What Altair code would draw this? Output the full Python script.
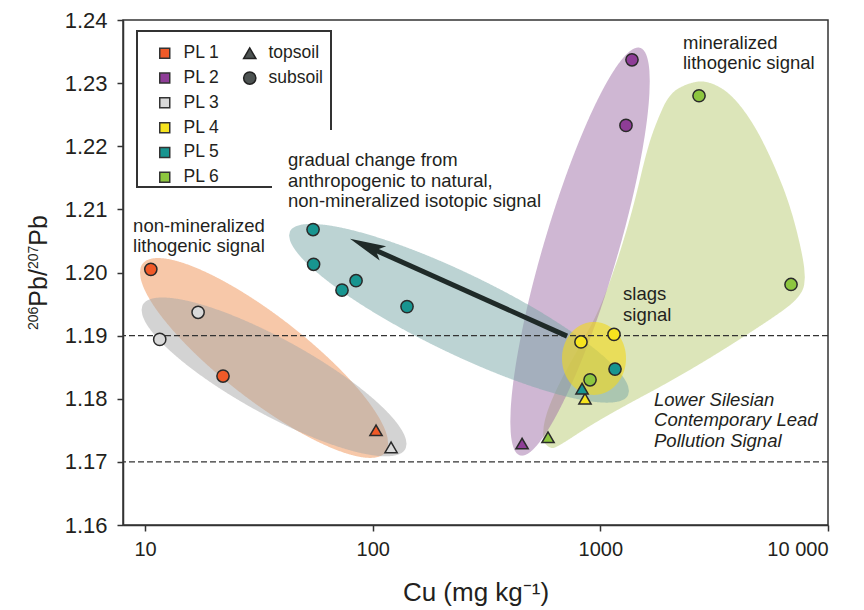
import numpy as np
import pandas as pd
import altair as alt

# ---------------- data ----------------
site_names = ["PL 1", "PL 2", "PL 3", "PL 4", "PL 5", "PL 6"]
site_colors = ["#f05a28", "#8e3d97", "#d9d9d9", "#f6e41f", "#189590", "#8dc63f"]
soil_names = ["topsoil", "subsoil"]
soil_shapes = ["triangle-up", "circle"]

pt_site = ["PL 1", "PL 1", "PL 1",
           "PL 2", "PL 2", "PL 2",
           "PL 3", "PL 3", "PL 3",
           "PL 4", "PL 4", "PL 4",
           "PL 5", "PL 5", "PL 5", "PL 5", "PL 5", "PL 5", "PL 5",
           "PL 6", "PL 6", "PL 6", "PL 6"]
pt_soil = ["subsoil", "subsoil", "topsoil",
           "subsoil", "subsoil", "topsoil",
           "subsoil", "subsoil", "topsoil",
           "subsoil", "subsoil", "topsoil",
           "subsoil", "subsoil", "subsoil", "subsoil", "subsoil", "subsoil", "topsoil",
           "subsoil", "topsoil", "subsoil", "subsoil"]
pt_cu = [10.6, 22.0, 103.4,
         1377, 1296, 453,
         17.1, 11.6, 120.4,
         822, 1148, 856,
         54.7, 55.0, 73.3, 84.5, 141.5, 1160, 831,
         901, 589, 2713, 6880]
pt_ratio = [1.2005, 1.1836, 1.1750,
            1.2337, 1.2233, 1.1729,
            1.1937, 1.1894, 1.1723,
            1.1890, 1.1902, 1.1800,
            1.2068, 1.2013, 1.1972, 1.1987, 1.1946, 1.1847, 1.1816,
            1.1830, 1.1739, 1.2280, 1.1981]

# shaded ellipses: centre, end of one semi-axis, end of the other semi-axis
ell_name = ["PL 2", "PL 1", "PL 3", "PL 5", "PL 4"]
ell_center_cu = [814.3, 33.32, 36.87, 239.4, 937.8]
ell_center_ratio = [1.20331, 1.18646, 1.18346, 1.19354, 1.18639]
ell_major_cu = [1494, 113.7, 138.97, 1323, 937.8]
ell_major_ratio = [1.23559, 1.17151, 1.17202, 1.18057, 1.19217]
ell_minor_cu = [1166, 43.30, 44.40, 285.8, 1296.5]
ell_minor_ratio = [1.20167, 1.19167, 1.18869, 1.19921, 1.18639]
ell_fill = ["#9f6fa8", "#f19a63", "#a8a8a8", "#7aa8a8", "#f0d820"]
ell_opacity = [0.5, 0.55, 0.5, 0.5, 0.62]

# irregular PL 6 region outline
green_upper_cu = [554, 571, 665, 814, 997, 1184, 1391, 1603, 1774, 2023, 2476,
                  2941, 3711, 4683, 5733, 6808, 7688, 8007]
green_upper_ratio = [1.1734, 1.1773, 1.1828, 1.1884, 1.1943, 1.2017, 1.2101, 1.2195,
                     1.2241, 1.2285, 1.2301, 1.2304, 1.2285, 1.2238, 1.2175, 1.2107,
                     1.2033, 1.1986]
green_lower_cu = [601, 645, 997, 2476, 6153, 7534]
green_lower_ratio = [1.1721, 1.1723, 1.1768, 1.1844, 1.1935, 1.1962]

# reference lines
ref_ratio = [1.19, 1.17]

# arrow: tail, shaft end, tip
arrow_cu = [714, 100.1, 79.5]
arrow_ratio = [1.18992, 1.20373, 1.20535]

# annotations (left edge, first baseline)
anno_text = ["non-mineralized\nlithogenic signal",
             "gradual change from\nanthropogenic to natural,\nnon-mineralized isotopic signal",
             "mineralized\nlithogenic signal",
             "slags\nsignal"]
anno_cu = [8.86, 42.47, 2307, 1258]
anno_ratio = [1.20646, 1.21685, 1.23543, 1.19564]
italic_text = ["Lower Silesian\nContemporary Lead\nPollution Signal"]
italic_cu = [1721]
italic_ratio = [1.17890]

x_ticks = [10, 100, 1000, 10000]
y_ticks = [1.16, 1.17, 1.18, 1.19, 1.20, 1.21, 1.22, 1.23, 1.24]

# y-axis title pieces (superscript mass numbers + element)
ytitle_parts = ["206", "Pb/", "207", "Pb"]
ytitle_sup = [True, False, True, False]

FONT = "Liberation Sans"
INK = "#231f20"


# ---------------- helpers ----------------
def band_from_outline(u, v, n=400):
    u = np.asarray(u, float)
    v = np.asarray(v, float)
    i0 = int(np.argmin(u))
    u = np.roll(u, -i0)
    v = np.roll(v, -i0)
    i1 = int(np.argmax(u))
    ua, va = u[:i1 + 1], v[:i1 + 1]
    ub, vb = np.append(u[i1:], u[0]), np.append(v[i1:], v[0])
    oa = np.argsort(ua)
    ob = np.argsort(ub)
    grid = np.linspace(u.min(), u.max(), n)
    ya = np.interp(grid, ua[oa], va[oa])
    yb = np.interp(grid, ub[ob], vb[ob])
    return pd.DataFrame({"cu": 10 ** grid, "lo": np.minimum(ya, yb), "hi": np.maximum(ya, yb)})


def ellipse_band(c_cu, c_r, m_cu, m_r, n_cu, n_r):
    cu0, cv0 = np.log10(c_cu), c_r
    a = (np.log10(m_cu) - cu0, m_r - cv0)
    b = (np.log10(n_cu) - cu0, n_r - cv0)
    t = np.linspace(0, 2 * np.pi, 720, endpoint=False)
    u = cu0 + a[0] * np.cos(t) + b[0] * np.sin(t)
    v = cv0 + a[1] * np.cos(t) + b[1] * np.sin(t)
    return band_from_outline(u, v)


def chaikin(u, v, it=4):
    u = np.asarray(u, float)
    v = np.asarray(v, float)
    for _ in range(it):
        u2, v2 = np.roll(u, -1), np.roll(v, -1)
        qu, qv = 0.75 * u + 0.25 * u2, 0.75 * v + 0.25 * v2
        ru, rv = 0.25 * u + 0.75 * u2, 0.25 * v + 0.75 * v2
        u = np.column_stack([qu, ru]).ravel()
        v = np.column_stack([qv, rv]).ravel()
    return u, v


XS = alt.Scale(type="log", domain=[8, 10000], nice=False)
YS = alt.Scale(domain=[1.16, 1.24], nice=False, zero=False)
XA = alt.Axis(values=x_ticks, title="Cu (mg kg\u207b\u00b9)",
              labelExpr="datum.value >= 10000 ? '10 000' : format(datum.value, 'd')",
              labelPadding=8, labelFontSize=20, titleY=67, titleBaseline="middle")
YA = alt.Axis(values=y_ticks, format=".2f", title=None, labelFontSize=22, labelPadding=10)


def X(f):
    return alt.X(f, type="quantitative", scale=XS, axis=XA)


def Y(f):
    return alt.Y(f, type="quantitative", scale=YS, axis=YA)


layers = []

# PL 6 irregular region
gu = np.concatenate([np.log10(green_upper_cu), np.log10(green_lower_cu)[::-1]])
gv = np.concatenate([green_upper_ratio, green_lower_ratio[::-1]])
su, sv = chaikin(gu, gv)
gdf = band_from_outline(su, sv)
layers.append(alt.Chart(gdf).mark_area(color="#c0cf80", opacity=0.55).encode(
    x=X("cu"), y=Y("lo"), y2="hi"))

for i in range(len(ell_name)):
    df = ellipse_band(ell_center_cu[i], ell_center_ratio[i], ell_major_cu[i],
                      ell_major_ratio[i], ell_minor_cu[i], ell_minor_ratio[i])
    layers.append(alt.Chart(df).mark_area(color=ell_fill[i], opacity=ell_opacity[i]).encode(
        x=X("cu"), y=Y("lo"), y2="hi"))

# dashed reference lines
layers.append(alt.Chart(pd.DataFrame({"r": ref_ratio})).mark_rule(
    color="#333333", strokeWidth=1.3, strokeDash=[6, 3]).encode(y=Y("r")))

one = pd.DataFrame({"k": [0]})
# legend frame
layers.append(alt.Chart(one).mark_rect(fill="white", stroke="#333333", strokeWidth=2).encode(
    x=alt.value(14), x2=alt.value(208), y=alt.value(11), y2=alt.value(167)))
# white backing of the centre annotation
layers.append(alt.Chart(one).mark_rect(fill="white").encode(
    x=alt.value(149), x2=alt.value(425), y=alt.value(110), y2=alt.value(187)))

# arrow
adf = pd.DataFrame({"cu": [arrow_cu[0]], "r": [arrow_ratio[0]],
                    "cu2": [arrow_cu[1]], "r2": [arrow_ratio[1]]})
layers.append(alt.Chart(adf).mark_rule(color="#1f2a28", strokeWidth=5).encode(
    x=X("cu"), y=Y("r"), x2="cu2", y2="r2"))
hdf = pd.DataFrame({"cu": [arrow_cu[2]], "r": [arrow_ratio[2]]})
layers.append(alt.Chart(hdf).mark_point(
    shape="M0,0L0.22,1L0,0.78L-0.22,1Z", size=5184, angle=294, filled=True,
    color="#1f2a28", opacity=1).encode(x=X("cu"), y=Y("r")))

# points
pdf = pd.DataFrame({"site": pt_site, "soil": pt_soil, "cu": pt_cu, "r": pt_ratio})
layers.append(alt.Chart(pdf).mark_point(
    filled=True, size=150, stroke="#2a2a2a", strokeWidth=1.5, opacity=1).encode(
    x=X("cu"), y=Y("r"),
    color=alt.Color("site:N", scale=alt.Scale(domain=site_names, range=site_colors),
                    legend=alt.Legend(orient="none", legendX=33, legendY=24.5, title=None,
                                      symbolType="square", symbolSize=100,
                                      symbolStrokeColor="#333333", symbolStrokeWidth=1.5,
                                      symbolOpacity=1, labelFontSize=17.5, labelOffset=10,
                                      rowPadding=5.8, padding=0, labelFont=FONT,
                                      labelColor=INK)),
    shape=alt.Shape("soil:N", scale=alt.Scale(domain=soil_names, range=soil_shapes),
                    legend=alt.Legend(orient="none", legendX=118, legendY=24.5, title=None,
                                      symbolSize=150, symbolFillColor="#4d5352",
                                      symbolStrokeColor="#222222", symbolStrokeWidth=1.5,
                                      symbolOpacity=1, labelFontSize=17.5, labelOffset=10,
                                      rowPadding=5.8, padding=0, labelFont=FONT,
                                      labelColor=INK)),
))

# annotations
tdf = pd.DataFrame({"t": anno_text, "cu": anno_cu, "r": anno_ratio})
layers.append(alt.Chart(tdf).mark_text(
    align="left", baseline="alphabetic", lineBreak="\n", lineHeight=20.5, fontSize=18.5,
    font=FONT, color=INK).encode(x=X("cu"), y=Y("r"), text="t:N"))
idf = pd.DataFrame({"t": italic_text, "cu": italic_cu, "r": italic_ratio})
layers.append(alt.Chart(idf).mark_text(
    align="left", baseline="alphabetic", lineBreak="\n", lineHeight=20.5, fontSize=18.5,
    fontStyle="italic", font=FONT, color=INK).encode(x=X("cu"), y=Y("r"), text="t:N"))

# y-axis title, drawn piecewise so the mass numbers are true superscripts
big, small = 25, 14
char_w = {"P": 0.667, "b": 0.556, "/": 0.278}
pos = 310.0  # start (bottom) of the rotated title, relative to the plot top
for part, sup in zip(ytitle_parts, ytitle_sup):
    if sup:
        w = 0.556 * len(part) * small
        layers.append(alt.Chart(one).mark_text(
            align="left", baseline="alphabetic", angle=270, fontSize=small, font=FONT,
            color=INK).encode(x=alt.value(-85), y=alt.value(pos), text=alt.value(part)))
    else:
        w = sum(char_w[c] for c in part) * big
        layers.append(alt.Chart(one).mark_text(
            align="left", baseline="alphabetic", angle=270, fontSize=big, font=FONT,
            color=INK).encode(x=alt.value(-76), y=alt.value(pos), text=alt.value(part)))
    pos -= w

chart = alt.layer(*layers).properties(
    width=705, height=505,
    padding={"left": 115, "top": 12, "right": 28, "bottom": 84},
    autosize=alt.AutoSizeParams(type="none"),
).configure_view(stroke="#333333", strokeWidth=1.5).configure_axis(
    grid=False, domainColor="#333333", domainWidth=1.5, tickColor="#333333",
    tickWidth=1.5, tickSize=6, labelFont=FONT, labelColor=INK,
    titleFont=FONT, titleFontSize=26, titleFontWeight="normal", titleColor=INK,
)

chart.save("out.html", embed_options={"renderer": "svg", "actions": False})
